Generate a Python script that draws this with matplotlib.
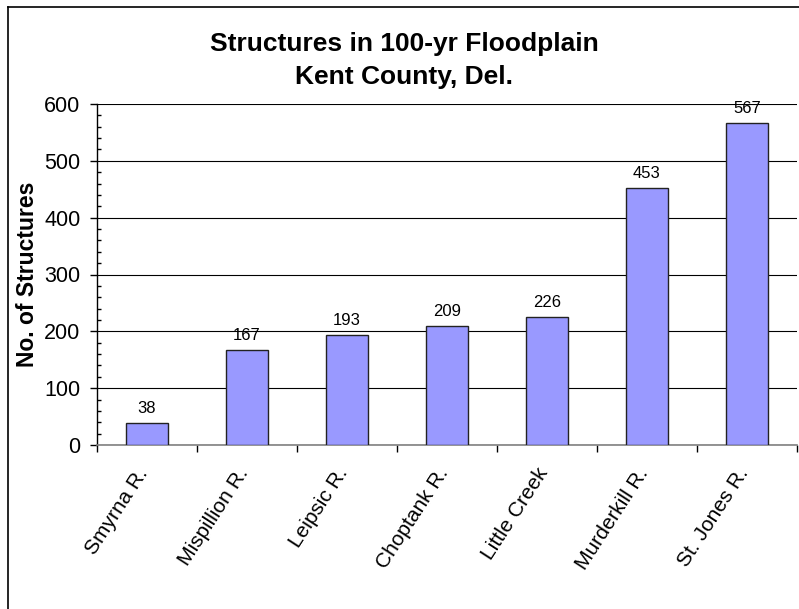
import matplotlib
matplotlib.use('Agg')
import matplotlib.pyplot as plt
import numpy as np
from matplotlib.lines import Line2D
from matplotlib.ticker import MultipleLocator, FixedLocator
from matplotlib.transforms import ScaledTranslation

plt.rcParams['font.family'] = ['Liberation Sans', 'DejaVu Sans']

# structures in the 100-yr floodplain, by watershed
watersheds = ['Smyrna R.', 'Mispillion R.', 'Leipsic R.', 'Choptank R.',
              'Little Creek', 'Murderkill R.', 'St. Jones R.']
structures = [38, 167, 193, 209, 226, 453, 567]

W, H = 799, 609
fig = plt.figure(figsize=(W / 100, H / 100), dpi=100)
ax = fig.add_axes([97 / W, (H - 445) / H, 700 / W, 341 / H])

x = np.arange(len(watersheds))
bars = ax.bar(x, structures, width=0.42, color='#9999FF',
              edgecolor='#222222', linewidth=1.0, zorder=3)

for xi, v in zip(x, structures):
    ax.annotate(str(v), (xi, v), xytext=(0, 5), textcoords='offset points',
                ha='center', va='bottom', fontsize=12)

ax.set_xlim(-0.5, len(watersheds) - 0.5)
ax.set_ylim(0, 600)

# gridlines
ax.yaxis.set_major_locator(MultipleLocator(100))
ax.yaxis.set_minor_locator(MultipleLocator(20))
ax.grid(axis='y', which='major', color='black', linewidth=0.8, zorder=0)

ax.set_xticks(x)
ax.xaxis.set_minor_locator(FixedLocator(np.arange(len(watersheds) + 1) - 0.5))
ax.tick_params(axis='x', which='major', length=0, pad=14)
ax.tick_params(axis='x', which='minor', length=5, width=1, direction='out',
               color='black')
ax.tick_params(axis='y', which='major', length=5, width=1, direction='out',
               labelsize=15.5, pad=7)
ax.tick_params(axis='y', which='minor', length=3, width=1, direction='in')

ax.set_xticklabels(watersheds, rotation=57, ha='right', va='top',
                   rotation_mode='anchor', fontsize=15)
# nudge the slanted labels left so they end at the category centre
shift = ScaledTranslation(-11 / 100, 0, fig.dpi_scale_trans)
for tick in ax.xaxis.get_major_ticks():
    tick.label1.set_transform(tick.label1.get_transform() + shift)

for side in ['top', 'right']:
    ax.spines[side].set_visible(False)
ax.spines['left'].set_color('black')
ax.spines['left'].set_linewidth(1.0)
ax.spines['bottom'].set_color('#808080')
ax.spines['bottom'].set_linewidth(1.2)

ax.set_ylabel('No. of Structures', fontsize=16.5, fontweight='bold')
ax.yaxis.set_label_coords((39 - 97) / 700, 0.5)

fig.text(404 / W, 1 - 60.5 / H,
         'Structures in 100-yr Floodplain\nKent County, Del.',
         ha='center', va='center', fontsize=19, fontweight='bold',
         linespacing=1.5)

# chart area frame (top and left edges)
fig.add_artist(Line2D([8 / W, 1.0], [1 - 7 / H, 1 - 7 / H],
                      transform=fig.transFigure, color='black', linewidth=1.2))
fig.add_artist(Line2D([8 / W, 8 / W], [0.0, 1 - 7 / H],
                      transform=fig.transFigure, color='black', linewidth=1.2))

fig.savefig('out.png', dpi=100)
